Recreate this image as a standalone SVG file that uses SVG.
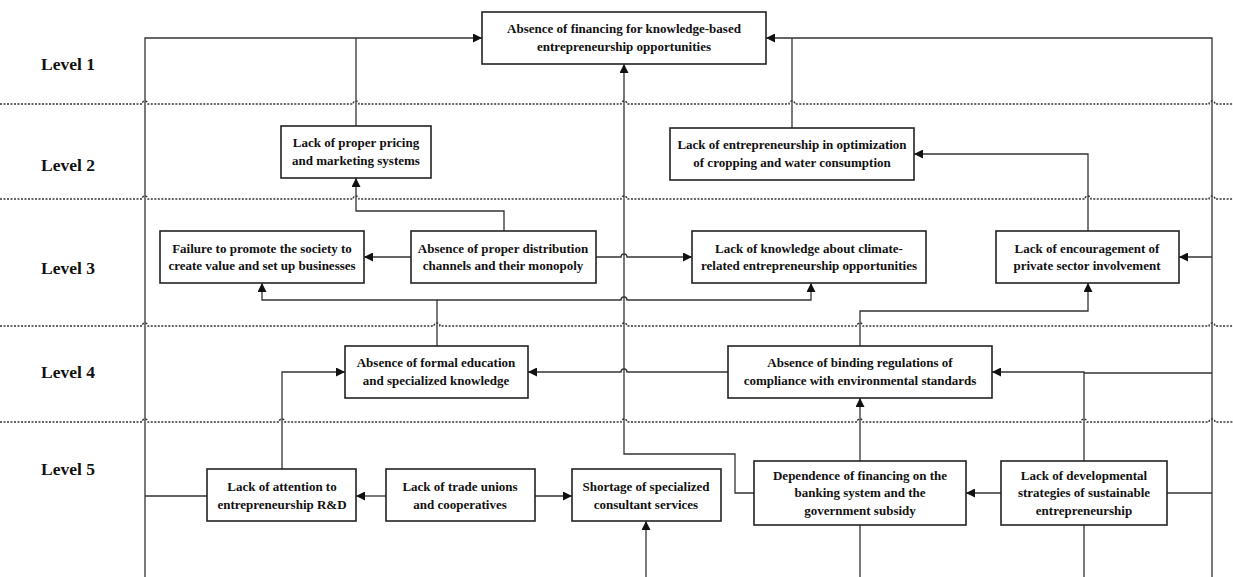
<svg xmlns="http://www.w3.org/2000/svg" width="1233" height="577" viewBox="0 0 1233 577">
<defs>
<style>
.box{fill:#fff;stroke:#222;stroke-width:1.6}
.t{font-family:"Liberation Serif","Times New Roman",serif;font-weight:bold;font-size:13px;fill:#111;text-anchor:middle}
.lv{font-family:"Liberation Serif","Times New Roman",serif;font-weight:bold;font-size:17.5px;fill:#111}
.c{fill:none;stroke:#333;stroke-width:1.3}
.d{fill:none;stroke:#333;stroke-width:1.4;stroke-dasharray:2 1.5}
</style>
<marker id="ah" viewBox="0 0 10 10" refX="10" refY="5" markerWidth="9" markerHeight="9" markerUnits="userSpaceOnUse" orient="auto">
<path d="M0,0 L10,5 L0,10 z" fill="#111"/>
</marker>
</defs>
<rect width="1233" height="577" fill="#fff"/>
<g id="levels">
<path class="d" d="M0,104 H142 a3,3 0 0 1 6,0 H353 a3,3 0 0 1 6,0 H621 a3,3 0 0 1 6,0 H789 a3,3 0 0 1 6,0 H1209 a3,3 0 0 1 6,0 H1233"/>
<path class="d" d="M0,199 H142 a3,3 0 0 1 6,0 H353 a3,3 0 0 1 6,0 H621 a3,3 0 0 1 6,0 H1085 a3,3 0 0 1 6,0 H1209 a3,3 0 0 1 6,0 H1233"/>
<path class="d" d="M0,326 H142 a3,3 0 0 1 6,0 H434 a3,3 0 0 1 6,0 H621 a3,3 0 0 1 6,0 H857 a3,3 0 0 1 6,0 H1209 a3,3 0 0 1 6,0 H1233"/>
<path class="d" d="M0,422 H142 a3,3 0 0 1 6,0 H279 a3,3 0 0 1 6,0 H621 a3,3 0 0 1 6,0 H857 a3,3 0 0 1 6,0 H1081 a3,3 0 0 1 6,0 H1209 a3,3 0 0 1 6,0 H1233"/>
<text class="lv" x="41" y="70">Level 1</text>
<text class="lv" x="41" y="171">Level 2</text>
<text class="lv" x="41" y="274">Level 3</text>
<text class="lv" x="41" y="378">Level 4</text>
<text class="lv" x="41" y="475">Level 5</text>
</g>
<g id="connectors">
<path class="c" d="M145,577 V38 H482" marker-end="url(#ah)"/>
<path class="c" d="M207,496 H145"/>
<path class="c" d="M356,126 V38"/>
<path class="c" d="M1212,577 V38 H766" marker-end="url(#ah)"/>
<path class="c" d="M792,128 V38"/>
<path class="c" d="M1212,257 H1179" marker-end="url(#ah)"/>
<path class="c" d="M1212,373 H1084"/>
<path class="c" d="M1167,493 H1212"/>
<path class="c" d="M754,493 H735 V454 H624 V64" marker-end="url(#ah)"/>
<path class="c" d="M1088,232 V154 H914" marker-end="url(#ah)"/>
<path class="c" d="M504,231 V211 H356 V178" marker-end="url(#ah)"/>
<path class="c" d="M411,257 H364" marker-end="url(#ah)"/>
<path class="c" d="M596,257 H621 a3,3 0 0 1 6,0 H692" marker-end="url(#ah)"/>
<path class="c" d="M437,346 V300 H262 V283" marker-end="url(#ah)"/>
<path class="c" d="M437,300 H621 a3,3 0 0 1 6,0 H811 V283" marker-end="url(#ah)"/>
<path class="c" d="M860,346 V311 H1088 V283" marker-end="url(#ah)"/>
<path class="c" d="M282,469 V372 H345" marker-end="url(#ah)"/>
<path class="c" d="M728,372 H627 a3,3 0 0 0 -6,0 H528" marker-end="url(#ah)"/>
<path class="c" d="M1084,461 V372 H992" marker-end="url(#ah)"/>
<path class="c" d="M860,461 V398" marker-end="url(#ah)"/>
<path class="c" d="M860,577 V525"/>
<path class="c" d="M1084,577 V525"/>
<path class="c" d="M386,496 H356" marker-end="url(#ah)"/>
<path class="c" d="M535,496 H572" marker-end="url(#ah)"/>
<path class="c" d="M646,577 V521" marker-end="url(#ah)"/>
<path class="c" d="M1001,493 H966" marker-end="url(#ah)"/>
</g>
<g id="n1">
<rect class="box" x="482" y="12" width="284" height="52"/>
<text class="t" x="624" y="33">Absence of financing for knowledge-based</text>
<text class="t" x="624" y="51">entrepreneurship opportunities</text>
</g>
<g id="n2a">
<rect class="box" x="281" y="126" width="150" height="52"/>
<text class="t" x="356" y="147">Lack of proper pricing</text>
<text class="t" x="356" y="165">and marketing systems</text>
</g>
<g id="n2b">
<rect class="box" x="670" y="128" width="244" height="52"/>
<text class="t" x="792" y="149">Lack of entrepreneurship in optimization</text>
<text class="t" x="792" y="167">of cropping and water consumption</text>
</g>
<g id="n3a">
<rect class="box" x="160" y="231" width="204" height="52"/>
<text class="t" x="262" y="253">Failure to promote the society to</text>
<text class="t" x="262" y="270">create value and set up businesses</text>
</g>
<g id="n3b">
<rect class="box" x="411" y="231" width="185" height="52"/>
<text class="t" x="503" y="253">Absence of proper distribution</text>
<text class="t" x="503" y="270">channels and their monopoly</text>
</g>
<g id="n3c">
<rect class="box" x="692" y="231" width="234" height="52"/>
<text class="t" x="809" y="253">Lack of knowledge about climate-</text>
<text class="t" x="809" y="270">related entrepreneurship opportunities</text>
</g>
<g id="n3d">
<rect class="box" x="996" y="231" width="183" height="52"/>
<text class="t" x="1087" y="253">Lack of encouragement of</text>
<text class="t" x="1087" y="270">private sector involvement</text>
</g>
<g id="n4a">
<rect class="box" x="345" y="346" width="183" height="52"/>
<text class="t" x="436" y="367">Absence of formal education</text>
<text class="t" x="436" y="385">and specialized knowledge</text>
</g>
<g id="n4b">
<rect class="box" x="728" y="346" width="264" height="52"/>
<text class="t" x="860" y="367">Absence of binding regulations of</text>
<text class="t" x="860" y="385">compliance with environmental standards</text>
</g>
<g id="n5a">
<rect class="box" x="207" y="469" width="149" height="52"/>
<text class="t" x="282" y="491">Lack of attention to</text>
<text class="t" x="282" y="509">entrepreneurship R&amp;D</text>
</g>
<g id="n5b">
<rect class="box" x="386" y="469" width="149" height="52"/>
<text class="t" x="460" y="491">Lack of trade unions</text>
<text class="t" x="460" y="509">and cooperatives</text>
</g>
<g id="n5c">
<rect class="box" x="572" y="469" width="149" height="52"/>
<text class="t" x="646" y="491">Shortage of specialized</text>
<text class="t" x="646" y="509">consultant services</text>
</g>
<g id="n5d">
<rect class="box" x="754" y="461" width="212" height="64"/>
<text class="t" x="860" y="480">Dependence of financing on the</text>
<text class="t" x="860" y="497">banking system and the</text>
<text class="t" x="860" y="515">government subsidy</text>
</g>
<g id="n5e">
<rect class="box" x="1001" y="461" width="166" height="64"/>
<text class="t" x="1084" y="480">Lack of developmental</text>
<text class="t" x="1084" y="497">strategies of sustainable</text>
<text class="t" x="1084" y="515">entrepreneurship</text>
</g>
</svg>
